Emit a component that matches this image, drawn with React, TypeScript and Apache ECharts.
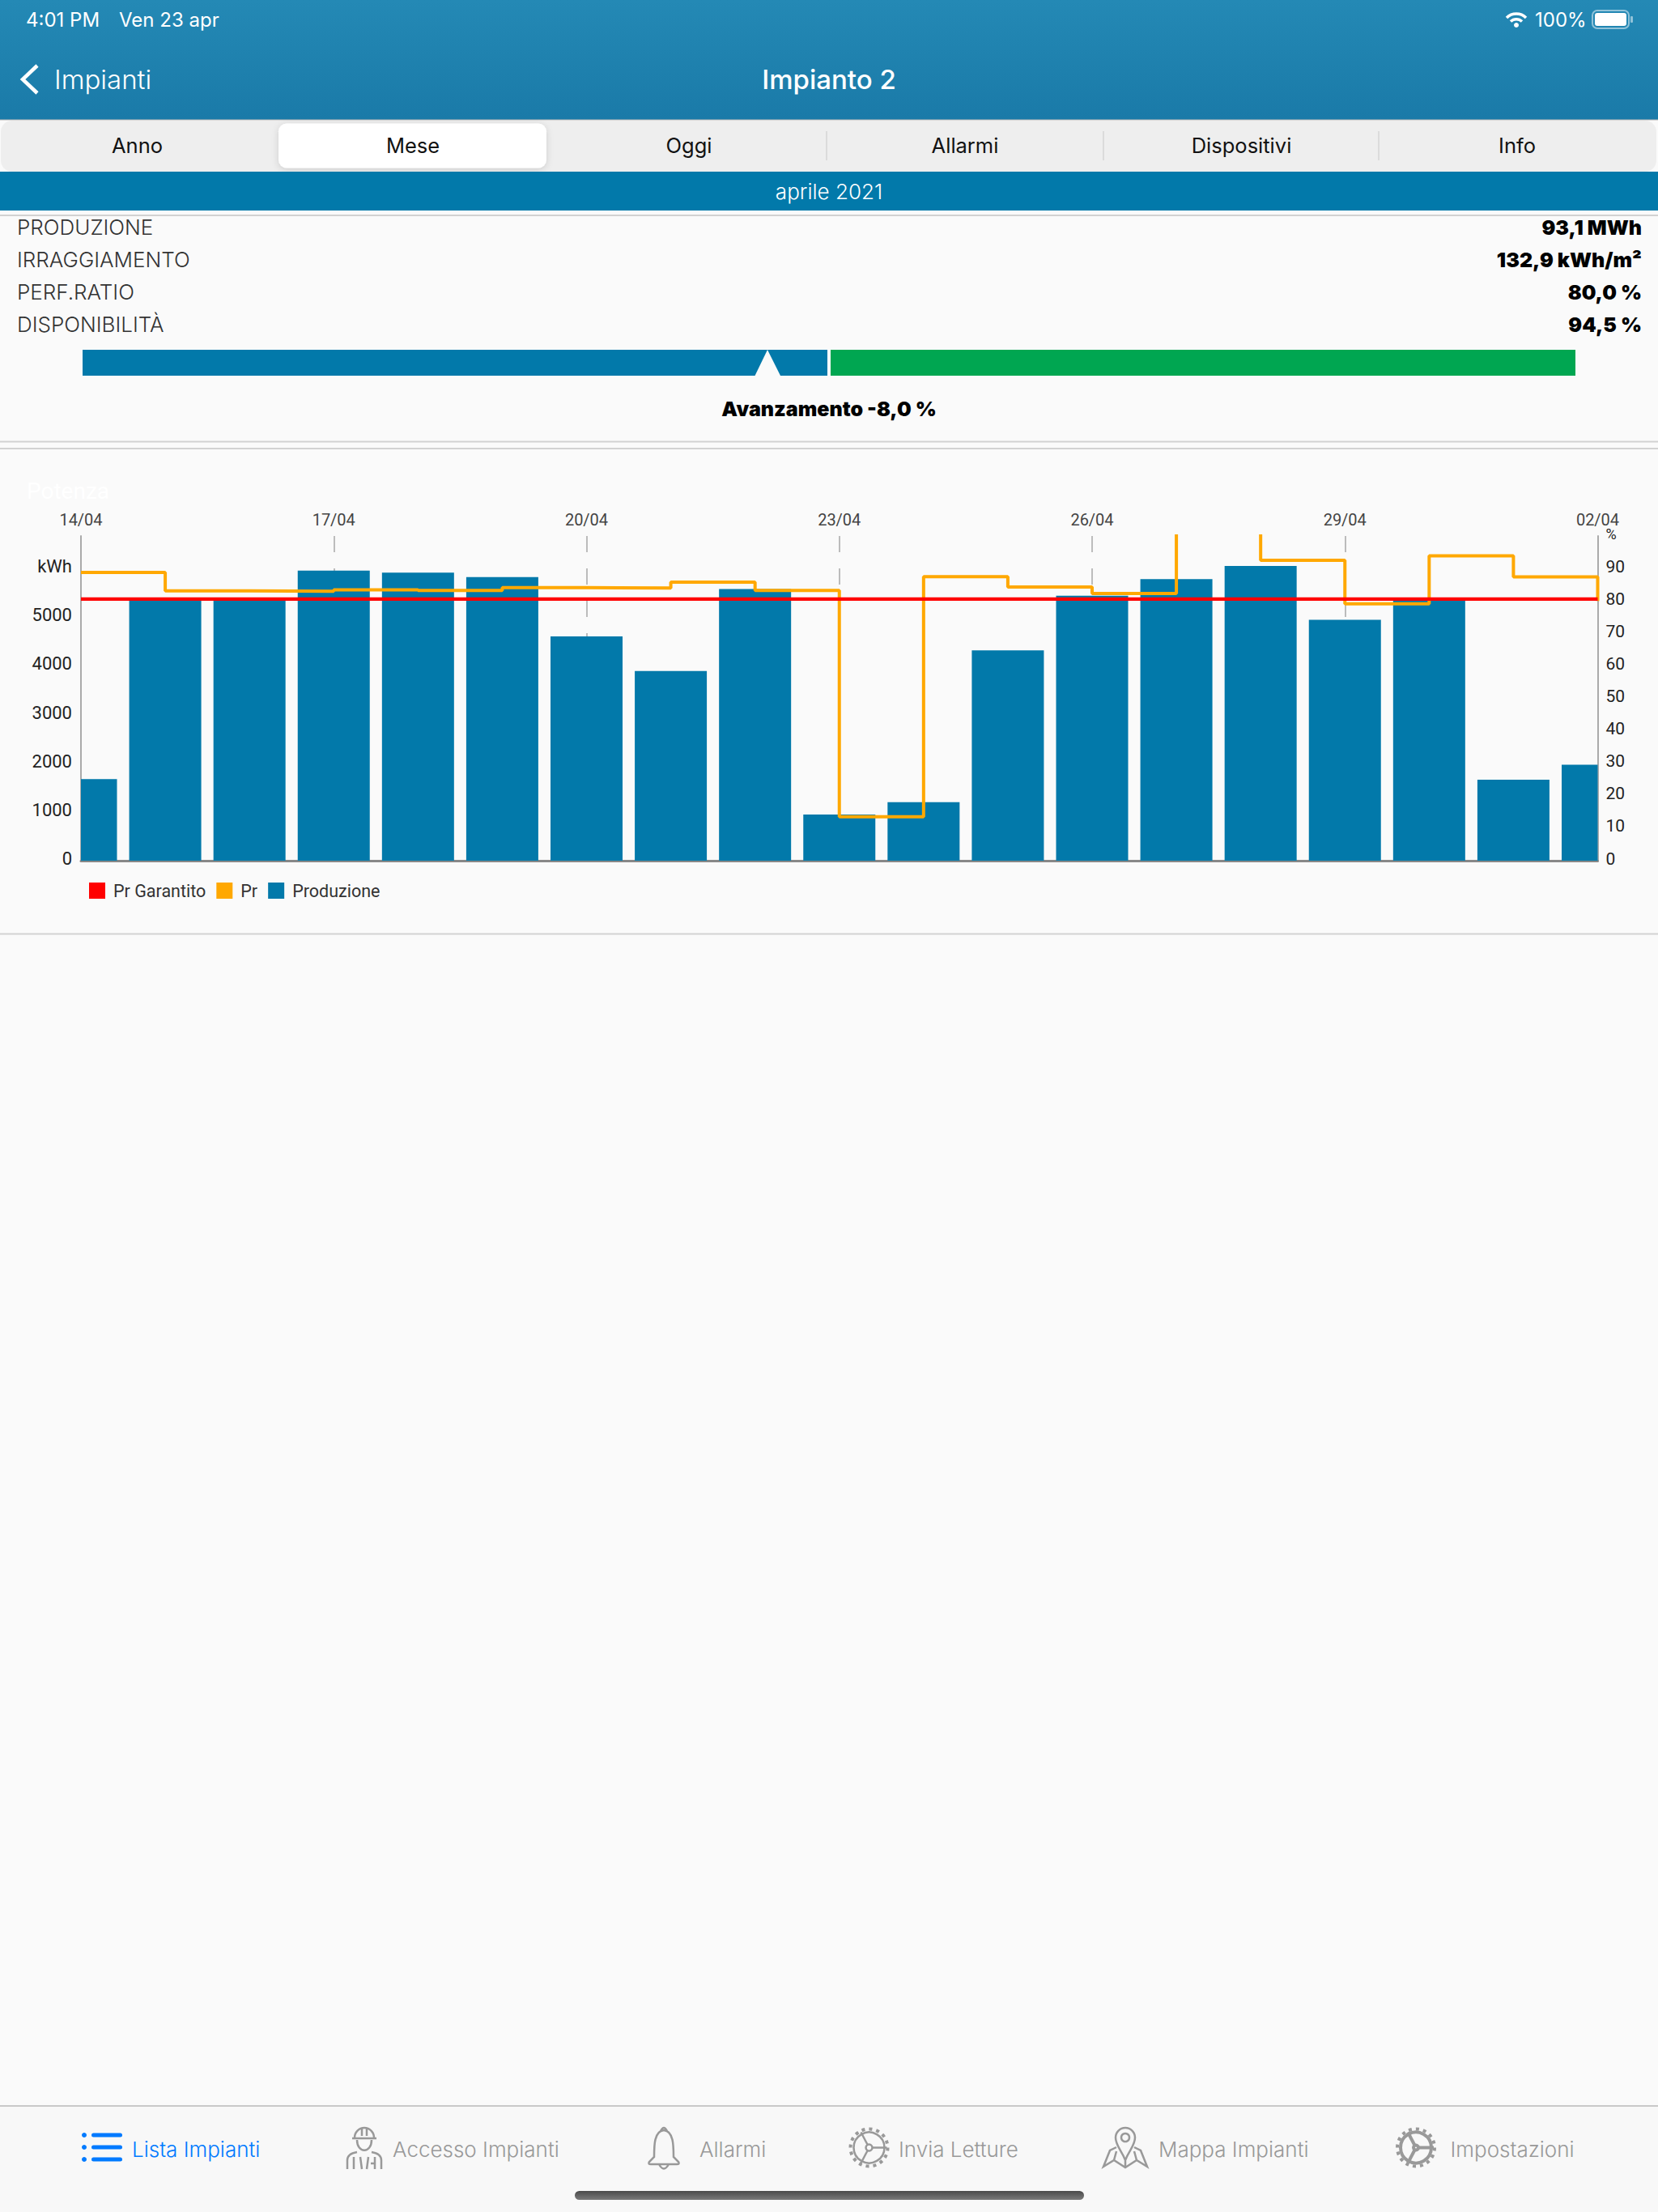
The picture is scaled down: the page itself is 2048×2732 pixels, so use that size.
import React, { useEffect, useRef } from 'react';
import * as echarts from 'echarts';

const days = ['14/04', '15/04', '16/04', '17/04', '18/04', '19/04', '20/04', '21/04', '22/04', '23/04', '24/04', '25/04', '26/04', '27/04', '28/04', '29/04', '30/04', '01/04', '02/04'];
const produzione = [1676, 5365, 5360, 5955, 5911, 5822, 4603, 3892, 5575, 946, 1200, 4317, 5441, 5778, 6051, 4946, 5352, 1663, 1968];
const pr = [88.8, 83.1, 83.0, 83.4, 83.2, 84.1, 84.0, 85.8, 83.2, 13.5, 87.5, 84.3, 82.3, 106, 92.5, 79.1, 93.9, 87.4, 80];
const prGarantito = [80.6, 80.6, 80.6, 80.6, 80.6, 80.6, 80.6, 80.6, 80.6, 80.6, 80.6, 80.6, 80.6, 80.6, 80.6, 80.6, 80.6, 80.6, 80.6];

const kpiLabels = ['PRODUZIONE', 'IRRAGGIAMENTO', 'PERF.RATIO', 'DISPONIBILITÀ'];
const kpiValues = ['93,1 MWh', '132,9 kWh/m²', '80,0 %', '94,5 %'];
const topTabs = ['Anno', 'Mese', 'Oggi', 'Allarmi', 'Dispositivi', 'Info'];
const bottomTabs = ['Lista Impianti', 'Accesso Impianti', 'Allarmi', 'Invia Letture', 'Mappa Impianti', 'Impostazioni'];

const BLUE = '#0279aa';
const GREY_ICON = '#999999';
const UI_FONT = 'Inter';
const CHART_FONT = 'Roboto';
const BAR_WIDTH = 89;

echarts.graphic.registerShape('bellIcon', echarts.graphic.extendPath(
  'M816 2632 Q820 2624 824 2632 M808 2664 C808 2650 808 2632 820 2631 C832 2632 832 2650 832 2664 L838 2670 Q840 2673 836 2673 L804 2673 Q800 2673 802 2670 Z M814 2673 Q820 2684 826 2673', {}));
echarts.graphic.registerShape('workerIcon', echarts.graphic.extendPath(
  'M438 2640 A12 12 0 0 1 462 2640 M435 2641 L465 2641 M447 2628 L447 2638 M453 2628 L453 2638 M441 2643 C441 2660 459 2660 459 2643 M429 2679 L429 2668 Q429 2660 441 2658 M471 2679 L471 2668 Q471 2660 459 2658 M437 2679 L437 2664 M445 2664 L447 2679 M455 2664 L453 2679 M463 2679 L463 2664 M458 2672 L464 2672', {}));
echarts.graphic.registerShape('pinIcon', echarts.graphic.extendPath(
  'M1390 2668 C1385 2655 1378 2650 1378 2640 A12 12 0 0 1 1402 2640 C1402 2650 1395 2655 1390 2668 Z M1379 2652 L1371 2656 L1363 2676 L1376 2668 L1390 2677 L1404 2668 L1417 2676 L1409 2656 L1401 2652 M1376 2668 L1379 2657 M1404 2668 L1401 2657 M1390 2677 L1390 2668', {}));
echarts.graphic.registerShape('wifiIcon', echarts.graphic.extendPath(
  'M1861 22 A17 17 0 0 1 1885 22 M1866 26.5 A10 10 0 0 1 1880 26.5', {}));

const txt = (text: string, x: number, y: number, fontSize: number, fill: string, align = 'left', fontWeight: any = 400, fontFamily = UI_FONT) => ({
  type: 'text', x, y, z: 10,
  style: { text, fontSize, fill, align, verticalAlign: 'middle', fontWeight, fontFamily },
});
const box = (x: number, y: number, width: number, height: number, fill: any, r = 0) => ({
  type: 'rect', shape: { x, y, width, height, r }, style: { fill }, z: 5,
});
const hline = (y: number, stroke = '#d2d2d2', lineWidth = 2) => ({
  type: 'line', shape: { x1: 0, y1: y, x2: 2048, y2: y }, style: { stroke, lineWidth }, z: 5,
});
const stroked = (type: string, stroke = GREY_ICON, lineWidth = 2.5) => ({
  type, x: 0, y: 0, z: 6, style: { fill: 'none', stroke, lineWidth },
});
const gear = (cx: number, cy: number, lineWidth: number, hub: number) => {
  const spokes = [[22, 0], [-10, -19], [-10, 19]];
  return [
    { type: 'circle', z: 6, shape: { cx, cy, r: 19 }, style: { fill: 'none', stroke: GREY_ICON, lineWidth } },
    { type: 'circle', z: 6, shape: { cx, cy, r: 23 }, style: { fill: 'none', stroke: GREY_ICON, lineWidth: 4, lineDash: [4, 5] } },
    { type: 'circle', z: 6, shape: { cx, cy, r: hub }, style: { fill: '#f8f8f8', stroke: GREY_ICON, lineWidth } },
    ...spokes.map(([dx, dy]) => ({
      type: 'line', z: 5, shape: { x1: cx, y1: cy, x2: cx + dx, y2: cy + dy }, style: { stroke: GREY_ICON, lineWidth },
    })),
  ];
};

const pageGraphics = () => {
  const tabX = [169.5, 510, 851, 1192, 1533.5, 1874];
  const bottomX = [163, 485, 864, 1110, 1431, 1791.5];
  return [
    // testata
    box(0, 0, 2048, 148, new echarts.graphic.LinearGradient(0, 0, 0, 1, [
      { offset: 0, color: '#2489b5' }, { offset: 1, color: '#1a7aa8' },
    ])),
    txt('4:01 PM', 32, 24, 24, '#ffffff'),
    txt('Ven 23 apr', 147, 24, 24, '#ffffff'),
    stroked('wifiIcon', '#ffffff', 3.5),
    { type: 'circle', z: 6, shape: { cx: 1873, cy: 31, r: 3 }, style: { fill: '#ffffff' } },
    txt('100%', 1896, 24, 24, '#ffffff'),
    { type: 'rect', z: 6, shape: { x: 1967, y: 13, width: 45, height: 22, r: 6 }, style: { fill: 'none', stroke: 'rgba(255,255,255,0.5)', lineWidth: 2 } },
    box(1970, 16, 39, 16, '#ffffff', 3),
    box(2014, 20, 3, 8, 'rgba(255,255,255,0.5)', 1),
    { type: 'polyline', z: 6, shape: { points: [[46, 81], [28, 98], [46, 115]] }, style: { fill: 'none', stroke: '#ffffff', lineWidth: 4.5 } },
    txt('Impianti', 67, 98, 33, '#ffffff', 'left', 300),
    txt('Impianto 2', 1024, 98, 33, '#ffffff', 'center', 500),
    // tab superiori
    hline(148, '#b4b4b4', 1),
    box(1, 149, 2045, 63, '#eeeeee', 14),
    {
      type: 'rect', z: 5, shape: { x: 344, y: 152.5, width: 331, height: 55, r: 10 },
      style: { fill: '#ffffff', shadowBlur: 8, shadowColor: 'rgba(0,0,0,0.14)', shadowOffsetY: 2 },
    },
    ...[1021, 1363, 1703].map((x) => ({
      type: 'line', z: 6, shape: { x1: x, y1: 162, x2: x, y2: 198 }, style: { stroke: '#d4d4d4', lineWidth: 1.5 },
    })),
    ...topTabs.map((t, i) => txt(t, tabX[i], 179.5, 25.5, '#111111', 'center')),
    box(0, 212, 2048, 48, BLUE),
    txt('aprile 2021', 1024, 236.5, 26, '#ffffff', 'center', 300),
    hline(266),
    // riepilogo
    ...kpiLabels.map((t, i) => txt(t, 21, 280.5 + i * 40, 26, '#333333', 'left', 300)),
    ...kpiValues.map((t, i) => txt(t, 2028, 280.5 + i * 40, 25, '#000000', 'right', 900)),
    box(102, 432, 920, 32, BLUE),
    box(1026, 432, 920, 32, '#00a651'),
    { type: 'polygon', z: 6, shape: { points: [[948, 432], [932.5, 464], [964, 464]] }, style: { fill: '#fafafa' } },
    txt('Avanzamento -8,0 %', 1024, 505, 25, '#000000', 'center', 900),
    hline(545.5),
    hline(554),
    txt('Potenza', 33, 606, 28, '#ffffff', 'left', 400, CHART_FONT),
    hline(1153.5),
    // tab inferiori
    box(0, 2602, 2048, 130, '#f8f8f8'),
    hline(2601, '#b9b9b9', 1.5),
    ...[2637, 2652, 2667].flatMap((y) => [
      { type: 'circle', z: 6, shape: { cx: 104, cy: y, r: 3 }, style: { fill: '#007aff' } },
      box(113, y - 2.5, 38, 5, '#007aff', 2.5),
    ]),
    stroked('workerIcon'),
    stroked('bellIcon'),
    ...gear(1073.5, 2652.5, 2.5, 4),
    stroked('pinIcon'),
    { type: 'circle', z: 6, shape: { cx: 1390, cy: 2640, r: 5 }, style: { fill: 'none', stroke: GREY_ICON, lineWidth: 2.5 } },
    ...gear(1749, 2652.5, 4, 3),
    ...bottomTabs.map((t, i) => txt(t, bottomX[i], 2654.5, 26, i === 0 ? '#007aff' : GREY_ICON, 'left', 300)),
    box(710, 2706, 629, 11, new echarts.graphic.LinearGradient(0, 0, 0, 1, [
      { offset: 0, color: '#4a4a4a' }, { offset: 1, color: '#7a7a7a' },
    ]), 5.5),
  ];
};

// le barre sul primo e ultimo giorno sono tagliate a metà dal bordo del grafico:
// una serie bar su asse boundaryGap:false non taglia al bordo, quindi custom
const renderBar = (params: any, api: any) => {
  const top = api.coord([api.value(0), api.value(1)]);
  const base = api.coord([api.value(0), 0]);
  const rect = echarts.graphic.clipRectByRect(
    { x: top[0] - BAR_WIDTH / 2, y: top[1], width: BAR_WIDTH, height: base[1] - top[1] },
    { x: params.coordSys.x, y: params.coordSys.y, width: params.coordSys.width, height: params.coordSys.height },
  );
  return rect && { type: 'rect', shape: rect, style: { fill: BLUE } };
};

const App: React.FC = () => {
  const chartRef = useRef<HTMLDivElement | null>(null);

  useEffect(() => {
    if (!chartRef.current) return;
    const chart = echarts.init(chartRef.current, null, { renderer: 'svg' });

    const option = {
      animation: false,
      backgroundColor: '#fafafa',
      textStyle: { fontFamily: CHART_FONT },
      grid: { left: 100, right: 74.5, top: 662, bottom: 1669, containLabel: false },
      legend: {
        left: 110,
        top: 1089,
        padding: 0,
        icon: 'rect',
        itemWidth: 20,
        itemHeight: 20,
        itemGap: 13,
        data: ['Pr Garantito', 'Pr', 'Produzione'],
        textStyle: { fontFamily: CHART_FONT, fontSize: 21.5, color: '#333333', padding: [0, 0, 0, 5] },
      },
      xAxis: [
        {
          type: 'category',
          position: 'top',
          data: days,
          boundaryGap: false,
          axisTick: { show: false },
          axisLine: { lineStyle: { color: '#aaaaaa', width: 2 } },
          axisLabel: { interval: 2, margin: 10, fontSize: 20, color: '#444444', fontFamily: CHART_FONT },
          splitLine: { show: true, interval: 2, lineStyle: { color: '#a8a8a8', width: 1.5, type: [20, 20] } },
        },
        {
          type: 'category',
          position: 'bottom',
          data: days,
          boundaryGap: false,
          axisTick: { show: false },
          axisLabel: { show: false },
          axisLine: { lineStyle: { color: '#888888', width: 3 } },
          splitLine: { show: false },
        },
      ],
      yAxis: [
        {
          type: 'value',
          min: 0,
          max: 6665,
          interval: 1000,
          axisLine: { show: true, lineStyle: { color: '#aaaaaa', width: 2 } },
          axisTick: { show: false },
          splitLine: { show: false },
          axisLabel: {
            margin: 11,
            fontSize: 22,
            color: '#222222',
            fontFamily: CHART_FONT,
            showMaxLabel: false,
            verticalAlign: 'bottom',
            lineHeight: 5,
            formatter: (v: number) => (v === 6000 ? 'kWh' : String(v)),
          },
        },
        {
          type: 'value',
          position: 'right',
          min: 0,
          max: 100,
          interval: 10,
          axisLine: { show: true, lineStyle: { color: '#aaaaaa', width: 2 } },
          axisTick: { show: false },
          splitLine: { show: false },
          axisLabel: {
            margin: 10,
            fontSize: 21,
            color: '#222222',
            fontFamily: CHART_FONT,
            verticalAlign: 'bottom',
            lineHeight: 5,
            formatter: (v: number) => (v === 100 ? '{p|%}' : String(v)),
            rich: { p: { fontSize: 18, color: '#222222', fontFamily: CHART_FONT, lineHeight: 5 } },
          },
        },
      ],
      series: [
        {
          name: 'Produzione',
          type: 'custom',
          xAxisIndex: 0,
          yAxisIndex: 0,
          data: produzione.map((v, i) => [i, v]),
          encode: { x: 0, y: 1 },
          renderItem: renderBar,
          itemStyle: { color: BLUE },
          z: 2,
        },
        {
          name: 'Pr',
          type: 'line',
          step: 'end',
          xAxisIndex: 0,
          yAxisIndex: 1,
          data: pr,
          symbol: 'none',
          clip: true,
          itemStyle: { color: '#ffa800' },
          lineStyle: { color: '#ffa800', width: 4 },
          z: 3,
        },
        {
          name: 'Pr Garantito',
          type: 'line',
          xAxisIndex: 0,
          yAxisIndex: 1,
          data: prGarantito,
          symbol: 'none',
          itemStyle: { color: '#ff0000' },
          lineStyle: { color: '#ff0000', width: 4.2 },
          z: 4,
        },
      ],
      graphic: { elements: pageGraphics() },
    };

    chart.setOption(option as any);
    return () => chart.dispose();
  }, []);

  return <div ref={chartRef} style={{ position: 'absolute', left: 0, top: 0, width: 2048, height: 2732 }} />;
};

export default App;
